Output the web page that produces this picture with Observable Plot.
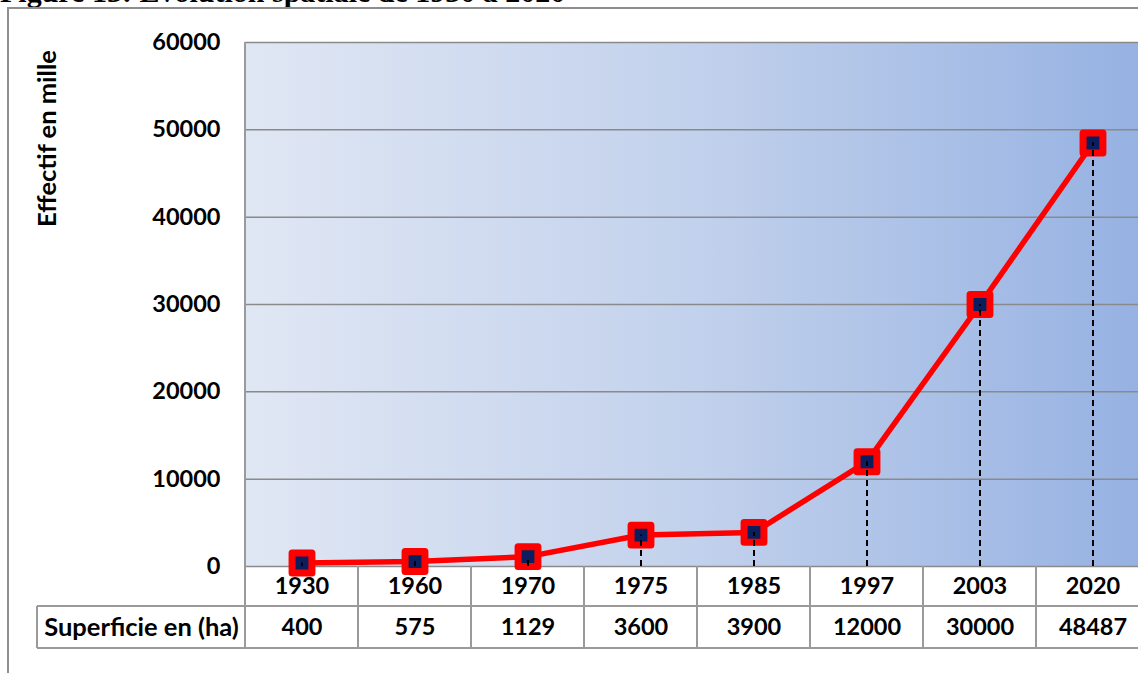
<!DOCTYPE html>
<html><head><meta charset="utf-8">
<script src="https://cdn.jsdelivr.net/npm/d3@7"></script>
<script src="https://cdn.jsdelivr.net/npm/@observablehq/plot@0.6"></script>
<style>
html,body{margin:0;padding:0;width:1138px;height:673px;overflow:hidden;background:#fff;}
#chart{position:absolute;left:0;top:0;}
#title{position:absolute;left:0;top:-23px;font:bold 30px "Liberation Serif","Times New Roman",serif;line-height:30px;white-space:nowrap;color:#000;}
#frame{position:absolute;left:7px;top:7px;width:2000px;height:2000px;border-left:2px solid #8e8e8e;border-top:2px solid #8e8e8e;pointer-events:none;}
</style></head><body>
<div id="chart"></div>
<div id="title">Figure 13: Evolution spatiale de 1930 à 2020</div>
<div id="frame"></div>
<script>
const years = ["1930","1960","1970","1975","1985","1997","2003","2020"];
const superficie = [400, 575, 1129, 3600, 3900, 12000, 30000, 48487];
const yTicks = [0, 10000, 20000, 30000, 40000, 50000, 60000];
const yLabel = "Effectif en mille";
const rowLabel = "Superficie en (ha)";

const data = years.map((y, i) => ({year: y, value: superficie[i]}));

function tableLines(index, scales, values, dimensions) {
  const x = scales.x;
  const bw = x.bandwidth ? x.bandwidth() : (x(years[1]) - x(years[0]));
  const {marginTop, marginBottom, height, width, marginLeft} = dimensions;
  const y0 = height - marginBottom;
  const r1 = y0 + 40, r2 = y0 + 82;
  const g = d3.create("svg:g").attr("stroke", "#9a9a9a").attr("stroke-width", 2).attr("fill", "none");
  g.append("line").attr("x1", marginLeft).attr("x2", marginLeft).attr("y1", marginTop).attr("y2", r2);
  for (const yr of years) {
    const bx = x(yr) + bw;
    g.append("line").attr("x1", bx).attr("x2", bx).attr("y1", y0).attr("y2", r2);
  }
  g.append("line").attr("x1", 37).attr("x2", width).attr("y1", r1).attr("y2", r1);
  g.append("line").attr("x1", 37).attr("x2", width).attr("y1", r2).attr("y2", r2);
  g.append("line").attr("x1", 37).attr("x2", 37).attr("y1", r1).attr("y2", r2);
  return g.node();
}

const plot = Plot.plot({
  width: 1160, height: 673,
  marginLeft: 245, marginRight: 11, marginTop: 42, marginBottom: 107,
  style: {fontFamily: "Lato, 'Open Sans', sans-serif", fontSize: "23.5px", fontWeight: "bold", color: "#000", background: "transparent", overflow: "visible", maxWidth: "none"},
  x: {type: "band", domain: years, padding: 0, axis: null},
  y: {domain: [0, 60000], axis: null},
  marks: [
    Plot.frame({fill: "url(#bgGrad)", stroke: null}),
    Plot.ruleY(yTicks, {stroke: "#8a8a8a", strokeWidth: 1.5}),
    tableLines,
    Plot.line(data, {x: "year", y: "value", stroke: "#ff0000", strokeWidth: 5.5}),
    Plot.dot(data, {x: "year", y: "value", symbol: "square", r: 11.2, fill: "#0b1f5e", stroke: "#ff0000", strokeWidth: 7, strokeLinejoin: "round"}),
    Plot.ruleX(data, {x: "year", y1: 0, y2: "value", stroke: "#000", strokeWidth: 2, strokeDasharray: "6,4"}),
    Plot.text(yTicks, {y: d => d, frameAnchor: "left", dx: -25, textAnchor: "end", lineAnchor: "middle", text: d => String(d), fill: "#000"}),
    Plot.text(years, {x: d => d, frameAnchor: "bottom", dy: 20, lineAnchor: "middle", text: d => d, fill: "#000"}),
    Plot.text(data, {x: "year", frameAnchor: "bottom", dy: 61, lineAnchor: "middle", text: d => String(d.value), fill: "#000"}),
    Plot.text([rowLabel], {frameAnchor: "bottom-left", dx: -104, dy: 61, textAnchor: "middle", lineAnchor: "middle", fontSize: 25.5, text: d => d, fill: "#000"}),
    Plot.text([yLabel], {frameAnchor: "top-left", dx: -198, dy: 96, rotate: -90, textAnchor: "middle", lineAnchor: "middle", fontSize: 25.5, text: d => d, fill: "#000"})
  ]
});

const svg = d3.select(plot);
const defs = svg.insert("defs", ":first-child");
const grad = defs.append("linearGradient").attr("id", "bgGrad").attr("x1", "0").attr("x2", "1").attr("y1", "0").attr("y2", "0");
grad.append("stop").attr("offset", "0").attr("stop-color", "#e0e7f4");
grad.append("stop").attr("offset", "0.5").attr("stop-color", "#c2d1ec");
grad.append("stop").attr("offset", "1").attr("stop-color", "#95b1e2");

document.getElementById("chart").appendChild(plot);
</script>
</body></html>
